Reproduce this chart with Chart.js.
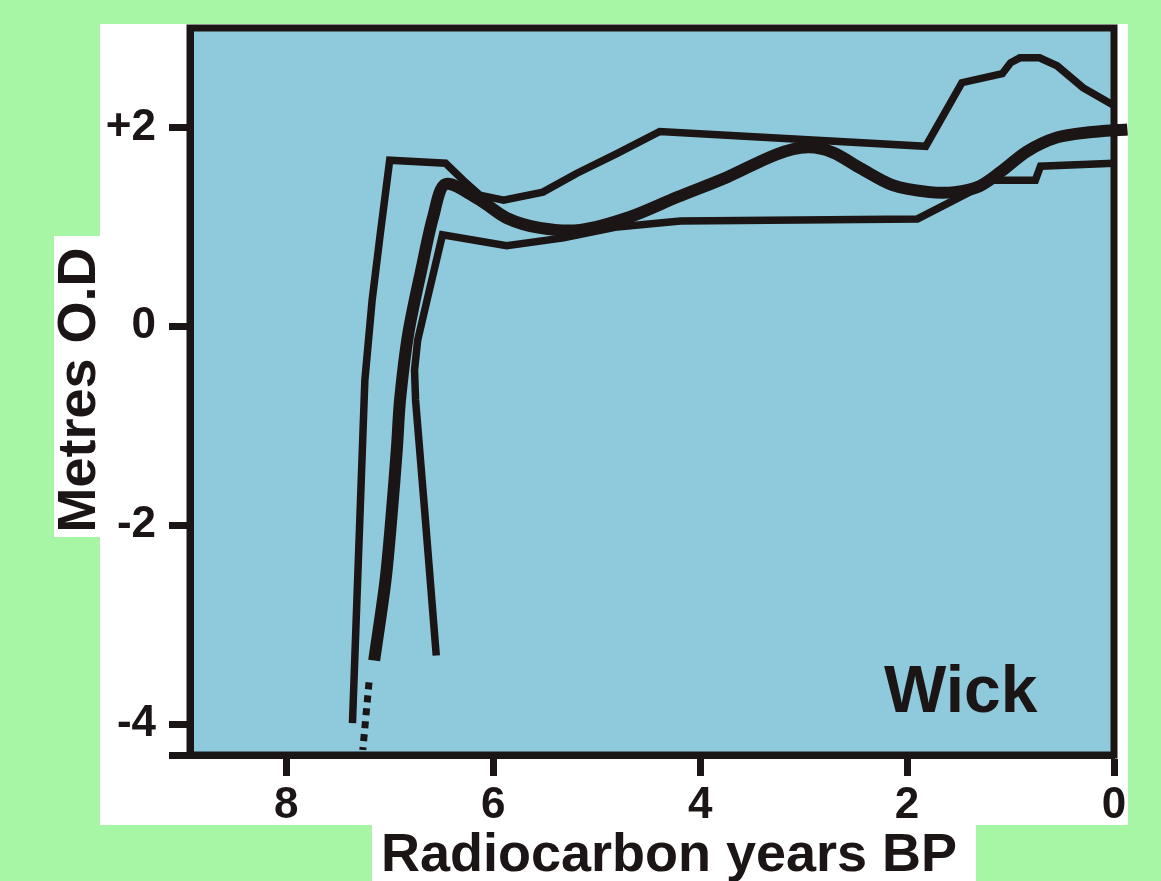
<!DOCTYPE html>
<html>
<head>
<meta charset="utf-8">
<title>Wick – sea-level curves</title>
<script src="https://cdn.jsdelivr.net/npm/chart.js@4.4.0/dist/chart.umd.min.js"></script>
<style>
  html, body { margin: 0; padding: 0; background: #a7f6a5; overflow: hidden; }
  #wrap { width: 1161px; height: 881px; }
</style>
</head>
<body>
<div id="wrap"><canvas id="chart" width="1161" height="881"></canvas></div>
<script>
// ---------- axes ----------
const xTicks = [8, 6, 4, 2, 0];
const yTicks = [-4, -2, 0, 2];
const yTickLabels = ["-4", "-2", "0", "+2"];
const X_MAX = 8.93, Y_MIN = -4.31, Y_MAX = 3.0;

// ---------- curves: age (ka BP) / level (m O.D.) ----------
// upper envelope (thin)
const upperAge   = [7.36, 7.24, 7.17, 7.09, 7.00, 6.46, 6.29, 6.13, 5.90, 5.52, 5.19, 4.80, 4.39, 1.82, 1.47, 1.08, 1.00, 0.91, 0.72, 0.55, 0.30, 0.00];
const upperLevel = [-3.99, -0.54, 0.26, 0.94, 1.67, 1.64, 1.47, 1.32, 1.27, 1.35, 1.54, 1.74, 1.96, 1.81, 2.45, 2.54, 2.65, 2.70, 2.70, 2.62, 2.40, 2.22];

// main curve (thick)
const mainAge   = [7.15, 7.04, 6.98, 6.93, 6.90, 6.82, 6.69, 6.58, 6.46, 6.13, 5.87, 5.55, 5.16, 4.68, 4.22, 3.74, 3.26, 2.96, 2.72, 2.45, 2.14, 1.78, 1.54, 1.30, 1.10, 0.84, 0.55, 0.26, -0.13];
const mainLevel = [-3.36, -2.55, -1.88, -1.22, -0.74, -0.07, 0.59, 1.10, 1.43, 1.27, 1.09, 0.99, 0.97, 1.10, 1.30, 1.50, 1.73, 1.80, 1.75, 1.59, 1.42, 1.35, 1.35, 1.41, 1.55, 1.76, 1.90, 1.95, 1.98];

// downward extension of the main curve (dotted)
const extAge   = [7.20, 7.26];
const extLevel = [-3.58, -4.26];

// lower envelope (thin)
const lowerAge   = [6.55, 6.66, 6.75, 6.76, 6.73, 6.64, 6.49, 5.87, 5.32, 4.80, 4.19, 1.90, 1.17, 0.76, 0.71, 0.00];
const lowerLevel = [-3.31, -1.88, -0.74, -0.44, -0.14, 0.26, 0.92, 0.81, 0.89, 1.00, 1.06, 1.08, 1.47, 1.47, 1.61, 1.64];

const INK = "#1c1515";
const BLUE = "#8ecadb";
const GREEN = "#a7f6a5";
const FONT = '"Liberation Sans", Arial, Helvetica, sans-serif';

const pts = (xs, ys) => xs.map((x, i) => ({ x, y: ys[i] }));

// ---------- backdrop, frame and labels ----------
const backdrop = {
  id: "backdrop",
  beforeDraw(chart) {
    const { ctx, chartArea: a } = chart;
    ctx.save();
    ctx.fillStyle = GREEN;
    ctx.fillRect(0, 0, chart.width, chart.height);
    ctx.fillStyle = "#ffffff";
    ctx.fillRect(100, 24, 1028, 801);   // panel
    ctx.fillRect(54, 236, 46, 301);     // y title patch
    ctx.fillRect(372, 825, 604, 56);    // x title patch
    ctx.fillStyle = BLUE;
    ctx.fillRect(a.left, a.top, a.right - a.left, a.bottom - a.top);

    ctx.fillStyle = INK;
    ctx.font = "bold 54px " + FONT;
    ctx.textAlign = "center";
    ctx.textBaseline = "alphabetic";
    ctx.fillText("Radiocarbon years BP", 669, 871);
    ctx.translate(95, 390);
    ctx.rotate(-Math.PI / 2);
    ctx.fillText("Metres O.D", 0, 0);
    ctx.restore();
  },
  beforeDatasetsDraw(chart) {
    const { ctx, chartArea: a } = chart;
    ctx.save();
    ctx.strokeStyle = INK;
    ctx.lineWidth = 7;
    ctx.strokeRect(a.left, a.top, a.right - a.left, a.bottom - a.top);
    ctx.restore();
  },
  afterDatasetsDraw(chart) {
    const { ctx } = chart;
    ctx.save();
    ctx.fillStyle = INK;
    ctx.font = "bold 66px " + FONT;
    ctx.textAlign = "left";
    ctx.textBaseline = "alphabetic";
    ctx.fillText("Wick", 884, 712);
    ctx.restore();
  }
};

const thin = { borderColor: INK, borderWidth: 7.5, pointRadius: 0, tension: 0, fill: false };

new Chart(document.getElementById("chart"), {
  type: "line",
  data: {
    datasets: [
      { ...thin, label: "upper", data: pts(upperAge, upperLevel) },
      { ...thin, label: "lower", data: pts(lowerAge, lowerLevel) },
      { ...thin, label: "extension", data: pts(extAge, extLevel), borderWidth: 7, borderDash: [7, 6] },
      { ...thin, label: "main", data: pts(mainAge, mainLevel), borderWidth: 12, tension: 0.3,
        clip: { left: 0, top: 0, right: 14, bottom: 0 } }
    ]
  },
  options: {
    responsive: false,
    devicePixelRatio: 1,
    animation: false,
    layout: { padding: { left: 0, top: 28, right: 47, bottom: 0 } },
    plugins: { legend: { display: false }, tooltip: { enabled: false } },
    scales: {
      x: {
        type: "linear", reverse: true, min: 0, max: X_MAX,
        afterBuildTicks: s => { s.ticks = xTicks.map(v => ({ value: v })); },
        afterFit: s => { s.height = 126; s.paddingLeft = 0; s.paddingRight = 0; },
        grid: { drawOnChartArea: false, drawTicks: true, tickLength: 21, tickWidth: 7, tickColor: INK },
        border: { display: true, width: 7, color: INK },
        ticks: { color: INK, padding: 8, maxRotation: 0, font: { family: FONT, size: 44, weight: "bold", lineHeight: 1 } }
      },
      y: {
        type: "linear", min: Y_MIN, max: Y_MAX,
        afterBuildTicks: s => { s.ticks = [Y_MIN, ...yTicks].map(v => ({ value: v })); },
        afterFit: s => { s.width = 190; s.paddingTop = 0; s.paddingBottom = 0; },
        grid: { drawOnChartArea: false, drawTicks: true, tickLength: 21, tickWidth: 7, tickColor: INK },
        border: { display: true, width: 7, color: INK },
        ticks: {
          color: INK, padding: 13,
          font: { family: FONT, size: 44, weight: "bold", lineHeight: 1 },
          callback: v => { const i = yTicks.indexOf(v); return i < 0 ? "" : yTickLabels[i]; }
        }
      }
    }
  },
  plugins: [backdrop]
});
</script>
</body>
</html>
